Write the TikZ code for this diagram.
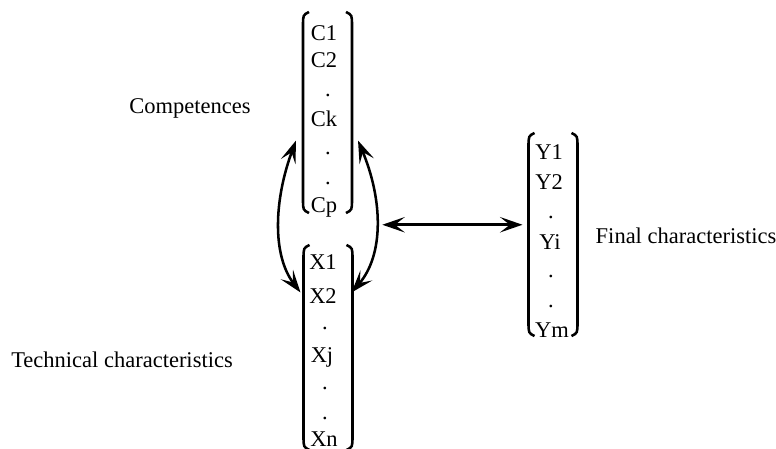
\documentclass[tikz,border=0pt]{standalone}
\usepackage{fontspec}
\setmainfont{Liberation Serif}
\usetikzlibrary{arrows.meta}
\newcommand{\vbrackets}[1]{%
  \draw[brk] ([shift={(6,0)}]#1.north west) .. controls ([shift={(0,3)}]#1.north west) .. ([shift={(0,14)}]#1.north west)
    -- ([shift={(0,-14)}]#1.south west) .. controls ([shift={(0,-3)}]#1.south west) .. ([shift={(6,0)}]#1.south west);
  \draw[brk] ([shift={(-6,0)}]#1.north east) .. controls ([shift={(0,3)}]#1.north east) .. ([shift={(0,14)}]#1.north east)
    -- ([shift={(0,-14)}]#1.south east) .. controls ([shift={(0,-3)}]#1.south east) .. ([shift={(-6,0)}]#1.south east);
}
\begin{document}
\begin{tikzpicture}[
        x=0.025cm, y=-0.025cm,
        font=\fontsize{16}{19}\selectfont,
        column/.style={rectangle, inner sep=0pt, outer sep=0pt, minimum width=1.225cm},
        item/.style={anchor=base, inner sep=0pt},
        brk/.style={line width=1.8pt},
        dbl/.style={{Stealth[length=16pt,width=11pt,inset=7pt]}-{Stealth[length=16pt,width=11pt,inset=7pt]}, line width=1.8pt}
    ]
        \useasboundingbox (0,0) rectangle (776,448);

        \node[column, minimum height=5.025cm] (colC) at (327.5,112.5) {};
        \node[column, minimum height=5.125cm] (colX) at (328,347.5) {};
        \node[column, minimum height=5.075cm] (colY) at (553,234.5) {};
        \vbrackets{colC}
        \vbrackets{colX}
        \vbrackets{colY}

        \node[item] (c1) at (324,40) {C1};
        \node[item] (c2) at (324,67) {C2};
        \node[item] (cd1) at (328,96) {.};
        \node[item] (ck) at (324,126) {Ck};
        \node[item] (cd2) at (328,154) {.};
        \node[item] (cd3) at (328,184) {.};
        \node[item] (cp) at (324,212) {Cp};

        \node[item] (x1) at (323,269) {X1};
        \node[item] (x2) at (323,303) {X2};
        \node[item] (xd1) at (325,329) {.};
        \node[item] (xj) at (322,362) {Xj};
        \node[item] (xd2) at (325,389) {.};
        \node[item] (xd3) at (325,419) {.};
        \node[item] (xn) at (324,446) {Xn};

        \node[item] (y1) at (549,159) {Y1};
        \node[item] (y2) at (549,189) {Y2};
        \node[item] (yd1) at (551,218) {.};
        \node[item] (yi) at (550,249) {Yi};
        \node[item] (yd2) at (551,277) {.};
        \node[item] (yd3) at (551,307) {.};
        \node[item] (ym) at (552,337) {Ym};

        \node (comp) at (190,108) {Competences};
        \node (tech) at (122,360) {Technical characteristics};
        \node (fin) at (686,236) {Final characteristics};

        \draw[dbl] ([shift={(-7,28)}]colC.west) .. controls (274,200) and (272,255) .. ([shift={(-3,-55)}]colX.west);
        \draw[dbl] ([shift={(6,28)}]colC.east) .. controls (383,200) and (384,255) .. ([shift={(-1,-55)}]colX.east) coordinate[pos=0.5] (bend);
        \draw[dbl, shorten <=0.15cm, shorten >=0.15cm] (bend) -- (bend -| colY.west);
    \end{tikzpicture}
\end{document}
